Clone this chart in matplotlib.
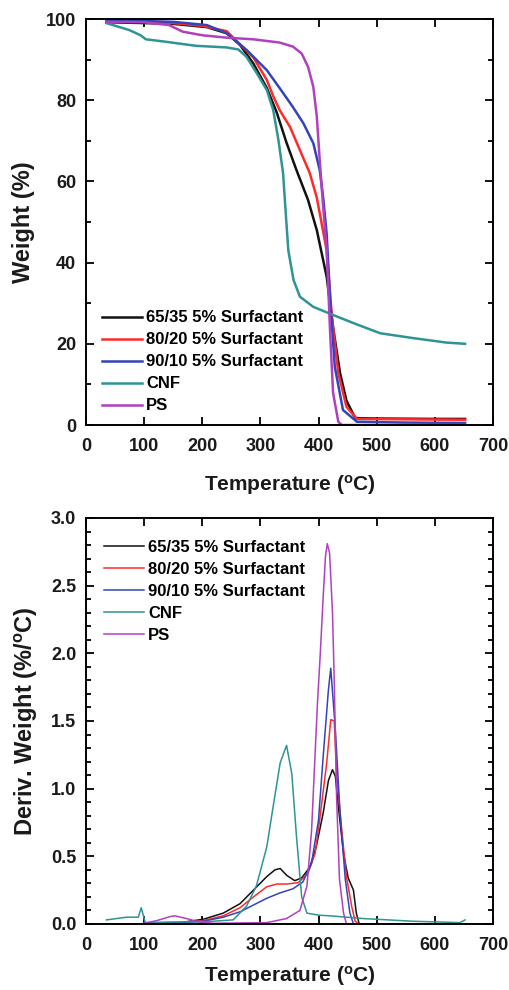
import matplotlib
matplotlib.use("Agg")
import matplotlib.pyplot as plt
from matplotlib.ticker import MultipleLocator

plt.rcParams['font.family'] = ['Liberation Sans', 'DejaVu Sans']
plt.rcParams['font.weight'] = 'bold'
plt.rcParams['axes.labelweight'] = 'bold'
plt.rcParams['mathtext.fontset'] = 'custom'
plt.rcParams['mathtext.rm'] = 'Liberation Sans:weight=bold'
plt.rcParams['mathtext.bf'] = 'Liberation Sans:weight=bold'
plt.rcParams['mathtext.default'] = 'bf'

labels = ["65/35 5% Surfactant", "80/20 5% Surfactant", "90/10 5% Surfactant", "CNF", "PS"]
colors = ["#111111", "#ff2a2a", "#3344bb", "#2e9494", "#b040c0"]

x_ticks = [0, 100, 200, 300, 400, 500, 600, 700]
w_ticks = [0, 20, 40, 60, 80, 100]
d_ticks = [0.0, 0.5, 1.0, 1.5, 2.0, 2.5, 3.0]

# --- TGA weight curves (temperature in C, weight in %)
t_6535 = [35, 100, 150, 208, 242, 265, 288, 311, 328, 345, 362, 382, 397, 414, 425, 437, 448, 463, 500, 600, 652]
w_6535 = [99.2, 99.0, 98.8, 98.0, 96.5, 93.6, 89.0, 83.0, 77.0, 69.5, 62.8, 55.4, 48.0, 36.5, 24.0, 12.8, 6.0, 1.7, 1.6, 1.5, 1.5]

t_8020 = [35, 100, 150, 200, 242, 288, 311, 322, 333, 351, 368, 385, 397, 414, 423, 434, 448, 466, 550, 652]
w_8020 = [99.5, 99.3, 99.0, 98.3, 97.0, 90.5, 85.0, 81.0, 77.6, 73.4, 67.7, 62.0, 56.0, 43.0, 26.6, 12.8, 4.5, 1.5, 1.4, 1.3]

t_9010 = [35, 100, 150, 208, 242, 276, 311, 333, 356, 374, 391, 402, 408, 414, 420, 428, 442, 466, 550, 652]
w_9010 = [99.6, 99.5, 99.3, 98.5, 96.5, 92.4, 87.4, 83.0, 78.3, 74.3, 69.4, 62.8, 56.0, 47.0, 30.8, 14.3, 3.7, 0.8, 0.6, 0.5]

t_cnf = [35, 74, 94, 103, 137, 189, 242, 262, 276, 294, 311, 322, 331, 339, 344, 348, 357, 368, 391, 425, 460, 506, 563, 620, 652]
w_cnf = [99.0, 97.3, 96.0, 95.0, 94.4, 93.4, 93.0, 92.5, 90.7, 86.6, 82.5, 77.6, 70.2, 62.0, 51.3, 43.0, 35.7, 31.6, 29.1, 27.1, 25.1, 22.6, 21.4, 20.3, 20.0]

t_ps = [35, 100, 143, 166, 200, 242, 288, 333, 356, 371, 382, 391, 397, 402, 407, 414, 420, 425, 434, 440, 652]
w_ps = [99.3, 99.2, 98.5, 96.9, 96.0, 95.4, 95.0, 94.2, 93.2, 91.5, 88.2, 83.3, 76.0, 65.3, 55.4, 43.0, 22.6, 7.9, 0.8, 0.0, 0.0]

# --- derivative weight curves (%/C)
dt_6535 = [103, 162, 202, 236, 265, 288, 311, 325, 334, 345, 359, 371, 385, 396, 408, 417, 424, 429, 434, 443, 451, 460, 465, 470, 652]
d_6535 = [0, 0.01, 0.035, 0.08, 0.15, 0.25, 0.35, 0.40, 0.41, 0.36, 0.32, 0.34, 0.42, 0.57, 0.82, 1.06, 1.14, 1.09, 0.87, 0.52, 0.34, 0.25, 0.08, 0, 0]

dt_8020 = [103, 162, 202, 236, 265, 288, 311, 328, 345, 365, 382, 394, 402, 414, 421, 427, 431, 440, 448, 457, 463, 470, 652]
d_8020 = [0, 0.01, 0.025, 0.06, 0.12, 0.2, 0.275, 0.295, 0.295, 0.305, 0.375, 0.52, 0.77, 1.19, 1.51, 1.50, 1.11, 0.69, 0.35, 0.13, 0.02, 0, 0]

dt_9010 = [103, 162, 202, 236, 265, 288, 311, 334, 356, 373, 388, 400, 408, 417, 421, 429, 437, 446, 454, 460, 652]
d_9010 = [0, 0.01, 0.02, 0.05, 0.09, 0.14, 0.19, 0.23, 0.26, 0.31, 0.45, 0.77, 1.24, 1.73, 1.89, 1.43, 0.82, 0.33, 0.08, 0, 0]

dt_cnf = [35, 70, 90, 95, 102, 150, 200, 253, 276, 293, 311, 322, 334, 345, 354, 362, 371, 380, 400, 420, 477, 563, 643, 652]
d_cnf = [0.03, 0.05, 0.05, 0.12, 0.01, 0.015, 0.015, 0.03, 0.13, 0.28, 0.57, 0.87, 1.19, 1.32, 1.11, 0.65, 0.2, 0.08, 0.065, 0.06, 0.04, 0.02, 0.01, 0.03]

dt_ps = [35, 94, 122, 145, 153, 173, 190, 219, 311, 345, 368, 380, 388, 394, 398, 403, 408, 412, 415, 419, 424, 427, 431, 436, 443, 448, 652]
d_ps = [0, 0, 0.025, 0.055, 0.06, 0.04, 0.02, 0.005, 0.01, 0.04, 0.1, 0.28, 0.69, 1.25, 1.62, 2.0, 2.42, 2.72, 2.81, 2.74, 2.3, 1.8, 0.94, 0.33, 0.08, 0, 0]

weight_data = [(t_6535, w_6535), (t_8020, w_8020), (t_9010, w_9010), (t_cnf, w_cnf), (t_ps, w_ps)]
deriv_data = [(dt_6535, d_6535), (dt_8020, d_8020), (dt_9010, d_9010), (dt_cnf, d_cnf), (dt_ps, d_ps)]

fig = plt.figure(figsize=(5.1, 9.9), dpi=100)
ax1 = fig.add_axes([0.1686, 0.5707, 0.798, 0.4101])
ax2 = fig.add_axes([0.1686, 0.0667, 0.798, 0.4101])

txt = "#1a1a1a"
tick_font = dict(fontsize=13, fontweight='bold', color=txt)

for (t, w), c, lab in zip(weight_data, colors, labels):
    ax1.plot(t, w, color=c, lw=1.8, label=lab)
for (t, d), c, lab in zip(deriv_data, colors, labels):
    ax2.plot(t, d, color=c, lw=1.1, label=lab)

for ax in (ax1, ax2):
    ax.set_xlim(0, 700)
    ax.set_xticks(x_ticks, [str(v) for v in x_ticks], **tick_font)
    ax.tick_params(which='both', direction='in', top=True, right=True, width=1.3)
    ax.tick_params(which='major', length=6)
    ax.tick_params(axis='x', which='major', pad=9.5)
    ax.tick_params(axis='y', which='major', pad=7)
    ax.tick_params(which='minor', length=3.5)
    for s in ax.spines.values():
        s.set_linewidth(1.4)

ax1.set_xlabel("Temperature ($^{o}$C)", fontsize=15, color=txt,
               fontweight='bold', labelpad=13)
ax2.set_xlabel("Temperature ($^{o}$C)", fontsize=15, color=txt,
               fontweight='bold', labelpad=7)

ax1.set_ylim(0, 100)
ax1.set_yticks(w_ticks, [str(v) for v in w_ticks], **tick_font)
ax1.yaxis.set_minor_locator(MultipleLocator(10))
ax1.set_ylabel("Weight (%)", fontsize=17, color=txt, fontweight='bold', labelpad=8)

ax2.set_ylim(0, 3.0)
ax2.set_yticks(d_ticks, [f"{v:.1f}" for v in d_ticks], **tick_font)
ax2.yaxis.set_minor_locator(MultipleLocator(0.1))
ax2.set_ylabel("Deriv. Weight (%/$^{o}$C)", fontsize=17, color=txt,
               fontweight='bold', labelpad=8)

leg_kw = dict(frameon=False, handlelength=2.4, handletextpad=0.25,
              labelspacing=0.42, borderaxespad=0.3,
              prop={'size': 12, 'weight': 'bold'})
ax1.legend(loc='lower left', bbox_to_anchor=(0.01, 0.0), **leg_kw)
ax2.legend(loc='upper left', bbox_to_anchor=(0.015, 0.975), **leg_kw)

fig.savefig("out.png", dpi=100)
